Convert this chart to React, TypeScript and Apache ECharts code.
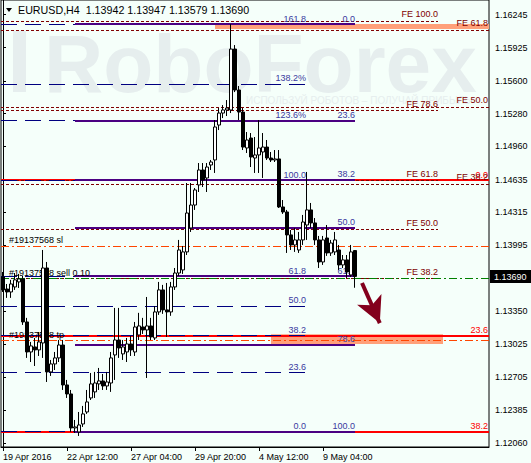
import React, { useEffect, useRef } from "react";
import * as echarts from "echarts";

// EURUSD H4 bars starting 19 Apr 2016 20:00
const opens = [
  1.13685, 1.13567, 1.13538, 1.13587, 1.13636, 1.13665, 1.13245, 1.12952, 1.13001, 1.12972,
  1.1304, 1.13772, 1.12757, 1.12835, 1.12894, 1.1302, 1.1263, 1.12542, 1.1221, 1.12171,
  1.12249, 1.12366, 1.12503, 1.12562, 1.1264, 1.12669, 1.1262, 1.12649, 1.12923, 1.13069,
  1.12933, 1.12952, 1.1303, 1.12952, 1.13118, 1.13196, 1.13167, 1.13206, 1.13089, 1.13343,
  1.13558, 1.13363, 1.13343, 1.13587, 1.13723, 1.13753, 1.13929, 1.14163, 1.14387, 1.14583,
  1.14729, 1.14651, 1.14778, 1.14827, 1.15168, 1.15285, 1.15315, 1.15315, 1.1591, 1.1551,
  1.15295, 1.14944, 1.15041, 1.14846, 1.14876, 1.14905, 1.14953, 1.14846, 1.14827, 1.14837,
  1.14368, 1.14319, 1.14095, 1.13997, 1.13948, 1.14046, 1.14192, 1.14339, 1.14212, 1.14046,
  1.13831, 1.14065, 1.13919, 1.13929, 1.13948, 1.13802, 1.13851, 1.13704, 1.13942,
];
const highs = [
  1.13733, 1.13616, 1.13656, 1.13723, 1.13714, 1.13694, 1.13285, 1.1305, 1.13089, 1.13147,
  1.13948, 1.13831, 1.12874, 1.12952, 1.13069, 1.13069, 1.12679, 1.12581, 1.12288, 1.12366,
  1.12425, 1.12581, 1.12747, 1.12757, 1.12796, 1.12737, 1.12757, 1.12952, 1.13382, 1.13382,
  1.13069, 1.13089, 1.13108, 1.13245, 1.13334, 1.13285, 1.13489, 1.13285, 1.13401, 1.13636,
  1.13607, 1.13626, 1.13636, 1.13772, 1.14046, 1.13987, 1.14602, 1.14602, 1.14553, 1.14797,
  1.14797, 1.14797, 1.14827, 1.15217, 1.15334, 1.15363, 1.15412, 1.16154, 1.15949, 1.15549,
  1.15334, 1.151, 1.1509, 1.15051, 1.15217, 1.1509, 1.15022, 1.14905, 1.14924, 1.14924,
  1.14436, 1.14339, 1.14143, 1.14163, 1.14124, 1.1429, 1.1471, 1.14407, 1.1426, 1.14085,
  1.14085, 1.14192, 1.14046, 1.14124, 1.13997, 1.13899, 1.13899, 1.13997, 1.13947,
];
const lows = [
  1.13538, 1.1348, 1.1348, 1.13558, 1.13577, 1.13216, 1.12894, 1.12854, 1.12815, 1.12913,
  1.12894, 1.12659, 1.12718, 1.12776, 1.12854, 1.12581, 1.12503, 1.12171, 1.12161, 1.12132,
  1.1222, 1.12347, 1.12483, 1.12503, 1.12581, 1.12581, 1.12581, 1.12562, 1.12679, 1.12894,
  1.12874, 1.12854, 1.12913, 1.12913, 1.13069, 1.13128, 1.12698, 1.13069, 1.13069, 1.13314,
  1.13324, 1.13099, 1.13305, 1.13558, 1.13694, 1.13714, 1.13899, 1.14124, 1.14339, 1.14514,
  1.14563, 1.14514, 1.14729, 1.147, 1.15119, 1.15236, 1.15256, 1.15285, 1.1549, 1.15217,
  1.14924, 1.14895, 1.14758, 1.147, 1.147, 1.14651, 1.14827, 1.14807, 1.14807, 1.14358,
  1.143, 1.13919, 1.13948, 1.13929, 1.13919, 1.13997, 1.14046, 1.14163, 1.13997, 1.13772,
  1.13802, 1.1389, 1.1389, 1.13899, 1.13753, 1.13772, 1.13675, 1.13685, 1.13579,
];
const closes = [
  1.13558, 1.13538, 1.13616, 1.13656, 1.13665, 1.13245, 1.12952, 1.13011, 1.12972, 1.1305,
  1.13772, 1.12757, 1.12835, 1.12894, 1.1302, 1.1263, 1.12542, 1.1221, 1.1222, 1.12239,
  1.12347, 1.12464, 1.1264, 1.12649, 1.12669, 1.1262, 1.12659, 1.12894, 1.13069, 1.12991,
  1.13001, 1.1303, 1.12972, 1.13196, 1.13206, 1.13167, 1.13206, 1.13099, 1.13343, 1.13558,
  1.13363, 1.13343, 1.13587, 1.13723, 1.13948, 1.13929, 1.14309, 1.14387, 1.14534, 1.14729,
  1.14631, 1.14758, 1.14807, 1.15149, 1.15285, 1.15315, 1.15334, 1.1591, 1.1551, 1.15295,
  1.14953, 1.15022, 1.14856, 1.14876, 1.14944, 1.14953, 1.14846, 1.14827, 1.14837, 1.14368,
  1.14319, 1.14095, 1.13997, 1.14046, 1.14046, 1.14221, 1.14339, 1.14212, 1.14046, 1.13831,
  1.14046, 1.13919, 1.14016, 1.14046, 1.13802, 1.13851, 1.13733, 1.13929, 1.1369,
];

const symbolName = "EURUSD,H4";

// time axis: one label every 16 bars, plus empty slots of chart shift on the right
const timeLabels = ["19 Apr 2016", "22 Apr 12:00", "27 Apr 04:00", "29 Apr 20:00", "4 May 12:00", "9 May 04:00"];
const barsPerTimeLabel = 16;
const rightShiftSlots = 33;

const priceTicks = [
  1.16245, 1.15925, 1.156, 1.1528, 1.1496, 1.14635, 1.14315, 1.13995, 1.1335, 1.13025, 1.12705, 1.12385, 1.1206,
];
const priceMin = 1.12024;
const priceMax = 1.16389;

// Fibonacci retracement over the whole fall (solid)
const fibMainLevels = [0, 23.6, 38.2, 50, 61.8, 78.6, 100];
const fibMainLabels = ["0.0", "23.6", "38.2", "50.0", "61.8", "78.6", "100.0"];
const fibMainAnchors = [1.16154, 1.12173];
const fibMainBars = [18, 88];

// Fibonacci grid with extensions (dashed)
const fibExtLevels = [0, 23.6, 38.2, 50, 61.8, 100, 123.6, 138.2, 161.8];
const fibExtLabels = ["0.0", "23.6", "38.2", "50.0", "61.8", "100.0", "123.6%", "138.2%", "161.8"];
const fibExtAnchors = [1.12173, 1.14631];
const fibExtBars = [-0.5, 75.75];

// red retracement
const fibRedLevels = [0, 23.6, 38.2];
const fibRedLabels = ["0.0", "23.6", "38.2"];
const fibRedAnchors = [1.1463, 1.08198];
const fibRedBars = [-0.5, 121.5];

// Fibonacci expansions
const fe1Levels = [38.2, 50, 61.8, 78.6, 100];
const fe1Labels = ["FE 38.2", "FE 50.0", "FE 61.8", "FE 78.6", "FE 100.0"];
const fe1Anchors = [1.12119, 1.16184];
const fe1Bars = [-0.5, 108.75];

const fe2Levels = [38.2, 50, 61.8];
const fe2Labels = ["FE 38.2", "FE 50.0", "FE 61.8"];
const fe2Anchors = [1.12158, 1.18531];
const fe2Bars = [-0.5, 121.5];

// open order lines
const orderNames = ["#19137568 sl", "#19137568 sell 0.10", "#19137568 tp"];
const orderPrices = [1.13987, 1.13671, 1.13062];
const orderColors = ["#ff4500", "#008000", "#ff4500"];

// target zones
const zoneBars = [
  [53, 121.5],
  [67, 110],
];
const zonePrices = [
  [1.16154, 1.16105],
  [1.13125, 1.1303],
];

// forecast arrow
const arrowBars = [89.75, 94.2];
const arrowPrices = [1.13626, 1.13234];

const FONT = "'Liberation Sans', Arial, sans-serif";
const BG = "#f5fffa";
const WATERMARK = "#e6eeee";

function levelPrice(anchors: number[], level: number) {
  return anchors[0] + ((anchors[1] - anchors[0]) * level) / 100;
}

function levelLines(levels: number[], labels: string[], anchors: number[], bars: number[]) {
  return levels.map((lv, k) => {
    const p = levelPrice(anchors, lv);
    return [{ coord: [bars[0], p], label: { formatter: labels[k] } }, { coord: [bars[1], p] }];
  });
}

function overlay(name: string, z: number, lineStyle: any, label: any, data: any[]) {
  return {
    name,
    type: "line",
    xAxisIndex: 1,
    yAxisIndex: 0,
    data: [],
    silent: true,
    markLine: {
      z,
      silent: true,
      symbol: "none",
      animation: false,
      lineStyle,
      label: { fontFamily: FONT, fontSize: 9, ...label },
      emphasis: { disabled: true },
      data,
    },
  };
}

export default function App() {
  const ref = useRef<HTMLDivElement>(null);

  useEffect(() => {
    if (!ref.current) return;
    const chart = echarts.init(ref.current, undefined, { renderer: "svg" });

    const n = opens.length;
    const categories = Array.from({ length: n + rightShiftSlots }, (_, i) => String(i));
    const candles = opens.map((o, i) => [o, closes[i], lows[i], highs[i]]);
    const showTime = (i: number) => i % barsPerTimeLabel === 0 && i / barsPerTimeLabel < timeLabels.length;
    const last = n - 1;
    const gap = "\u00a0\u00a0";
    const title =
      symbolName + gap +
      [opens[last], highs[last], lows[last], closes[last]].map((v) => v.toFixed(5)).join("\u00a0");

    const option: any = {
      animation: false,
      backgroundColor: BG,
      grid: {
        left: 1,
        top: 0,
        width: 488,
        height: 447,
        show: true,
        borderColor: "#000",
        borderWidth: 1,
        backgroundColor: "transparent",
      },
      xAxis: [
        {
          type: "category",
          data: categories,
          boundaryGap: true,
          axisLine: { show: true, lineStyle: { color: "#000", width: 1 } },
          axisTick: {
            show: true,
            alignWithLabel: true,
            interval: (i: number) => showTime(i),
            length: 4,
            lineStyle: { color: "#000" },
          },
          axisLabel: {
            interval: (i: number) => showTime(i),
            formatter: (_v: string, i: number) => timeLabels[i / barsPerTimeLabel] ?? "",
            align: "left",
            margin: 5,
            color: "#000",
            fontSize: 9,
            fontFamily: FONT,
          },
          splitLine: { show: false },
        },
        { type: "value", min: -0.5, max: 121.5, show: false },
      ],
      yAxis: {
        type: "value",
        position: "right",
        min: priceMin,
        max: priceMax,
        axisLine: { show: true, lineStyle: { color: "#000" } },
        axisTick: { show: true, length: 3, customValues: priceTicks, lineStyle: { color: "#000" } },
        axisLabel: {
          customValues: priceTicks,
          formatter: (v: number) => v.toFixed(5),
          margin: 6,
          color: "#000",
          fontSize: 9,
          fontFamily: FONT,
        },
        splitLine: { show: false },
      },
      graphic: [
        // RoboForex watermark
        { id: "wmBar", type: "rect", z: 0, silent: true, shape: { x: 13, y: 31, width: 13, height: 61 }, style: { fill: WATERMARK } },
        {
          id: "wmText",
          type: "text",
          z: 0,
          silent: true,
          x: 44,
          y: 63,
          style: { text: "RoboForex", fill: WATERMARK, font: `bold 82px ${FONT}`, textVerticalAlign: "middle" },
        },
        {
          id: "wmSub",
          type: "text",
          z: 0,
          silent: true,
          x: 246,
          y: 100,
          style: {
            text: "ИСПОЛЬЗУЙ РОБОТОВ – ПОЛУЧАЙ ПРИБЫЛЬ",
            fill: WATERMARK,
            font: `10px ${FONT}`,
            textVerticalAlign: "middle",
          },
        },
        // symbol header
        { id: "hdrMark", type: "polygon", z: 50, silent: true, shape: { points: [[6, 8], [12, 8], [9, 12]] }, style: { fill: "#000" } },
        {
          id: "hdrText",
          type: "text",
          z: 50,
          silent: true,
          x: 18,
          y: 10,
          style: { text: title, fill: "#000", font: `10.7px ${FONT}`, textVerticalAlign: "middle" },
        },
      ],
      series: [
        {
          name: "zones",
          type: "line",
          xAxisIndex: 1,
          yAxisIndex: 0,
          data: [],
          silent: true,
          markArea: {
            z: 1,
            silent: true,
            itemStyle: { color: "#ffa07a", opacity: 1 },
            data: zoneBars.map((b, k) => [
              { coord: [b[0], zonePrices[k][0]] },
              { coord: [b[1], zonePrices[k][1]] },
            ]),
          },
        },
        overlay(
          "fibRed",
          3,
          { color: "#ff0000", width: 2, type: "solid" },
          { position: "insideEndTop", distance: [1, 1], color: "#ff0000" },
          levelLines(fibRedLevels, fibRedLabels, fibRedAnchors, fibRedBars)
        ),
        overlay(
          "fe2",
          4,
          { color: "#800000", width: 1, type: [3, 2] },
          { position: "insideEndTop", distance: [1, 2], color: "#800000" },
          levelLines(fe2Levels, fe2Labels, fe2Anchors, fe2Bars)
        ),
        overlay(
          "fe1",
          4,
          { color: "#800000", width: 1, type: [3, 2] },
          { position: "insideEndTop", distance: [0, 2], color: "#800000" },
          levelLines(fe1Levels, fe1Labels, fe1Anchors, fe1Bars)
        ),
        overlay(
          "fibExt",
          5,
          { color: "#000080", width: 1, type: [16, 8] },
          { position: "insideEndTop", distance: [0, 1], color: "#3a3aa0" },
          levelLines(fibExtLevels, fibExtLabels, fibExtAnchors, fibExtBars)
        ),
        overlay(
          "fibMain",
          6,
          { color: "#4b0082", width: 2, type: "solid" },
          { position: "insideEndTop", distance: [0, 1], color: "#3a3aa0" },
          levelLines(fibMainLevels, fibMainLabels, fibMainAnchors, fibMainBars)
        ),
        overlay(
          "orders",
          7,
          { width: 1, type: [8, 3, 2, 3] },
          { position: "insideStartTop", distance: [8, 1], color: "#000" },
          orderPrices.map((p, k) => [
            { coord: [-0.5, p], lineStyle: { color: orderColors[k] }, label: { formatter: orderNames[k] } },
            { coord: [121.5, p] },
          ])
        ),
        {
          name: "arrow",
          type: "line",
          xAxisIndex: 1,
          yAxisIndex: 0,
          data: [],
          silent: true,
          markLine: {
            z: 8,
            silent: true,
            symbol: ["none", "arrow"],
            symbolSize: [20, 26],
            lineStyle: { color: "#83001c", width: 4, type: "solid" },
            label: { show: false },
            data: [
              [
                { coord: [arrowBars[0], arrowPrices[0]] },
                { coord: [arrowBars[1], arrowPrices[1]] },
              ],
            ],
          },
        },
        {
          name: symbolName,
          type: "candlestick",
          xAxisIndex: 0,
          yAxisIndex: 0,
          data: candles,
          barWidth: 3,
          z: 10,
          silent: true,
          itemStyle: {
            color: "#ffffff",
            color0: "#000000",
            borderColor: "#000000",
            borderColor0: "#000000",
            borderWidth: 1,
          },
        },
      ],
    };

    chart.setOption(option);

    // current price tag on the price scale, placed through the y axis
    const yLast = chart.convertToPixel({ yAxisIndex: 0 }, closes[last]) as number;
    chart.setOption({
      graphic: [
        {
          id: "priceTag",
          type: "rect",
          z: 60,
          silent: true,
          shape: { x: 490, y: Math.round(yLast) - 6, width: 41, height: 13 },
          style: { fill: "#000" },
        },
        {
          id: "priceTagText",
          type: "text",
          z: 61,
          silent: true,
          x: 494,
          y: Math.round(yLast) + 0.5,
          style: { text: closes[last].toFixed(5), fill: "#fff", font: `9px ${FONT}`, textVerticalAlign: "middle" },
        },
      ],
    });

    return () => chart.dispose();
  }, []);

  return (
    <div
      ref={ref}
      style={{ position: "fixed", left: 0, top: 0, width: 531, height: 463, background: BG }}
    />
  );
}
